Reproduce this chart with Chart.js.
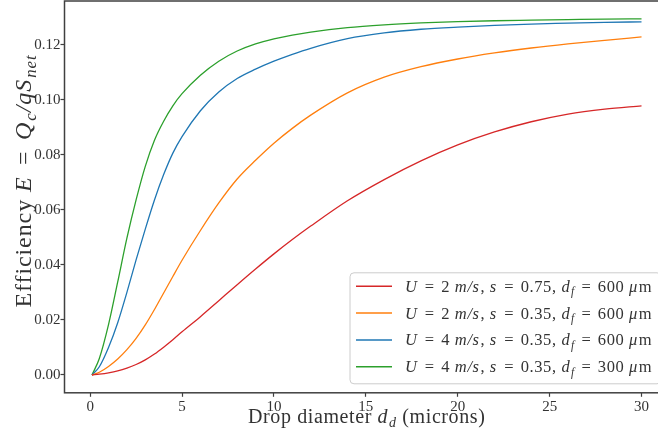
<!DOCTYPE html>
<html>
<head>
<meta charset="utf-8">
<script src="https://cdn.jsdelivr.net/npm/chart.js@4"></script>
<style>
  html, body { margin: 0; padding: 0; background: #fff; overflow: hidden; width: 658px; height: 438px; }
  canvas { display: block; }
</style>
</head>
<body>
<canvas id="c" width="669" height="438"></canvas>
<script>
// Drop diameter (microns) at which each efficiency curve is sampled
const diameters = [0.1, 0.5, 1, 1.5, 2, 2.5, 3, 3.5, 4, 4.5, 5, 6, 7, 8, 9, 10, 11, 12, 14, 16, 18, 20, 22, 24, 26, 28, 30];

// Collection efficiency E for each operating case
const effU2s075f600 = [0, 0.0003, 0.0008, 0.0015, 0.0025, 0.0038, 0.0055, 0.0076, 0.0101, 0.0128, 0.0157, 0.0212, 0.0270, 0.0328, 0.0385, 0.0440, 0.0492, 0.0541, 0.0633, 0.0710, 0.0778, 0.0836, 0.0883, 0.0920, 0.0948, 0.0966, 0.0978];
const effU2s035f600 = [0, 0.0010, 0.0031, 0.0058, 0.0092, 0.0133, 0.0182, 0.0238, 0.0298, 0.0358, 0.0417, 0.0525, 0.0625, 0.0712, 0.0780, 0.0842, 0.0896, 0.0944, 0.1025, 0.1082, 0.1120, 0.1148, 0.1170, 0.1188, 0.1203, 0.1216, 0.1228];
const effU4s035f600 = [0, 0.0030, 0.0100, 0.0190, 0.0300, 0.0418, 0.0530, 0.0636, 0.0728, 0.0806, 0.0866, 0.0960, 0.1028, 0.1077, 0.1111, 0.1140, 0.1165, 0.1187, 0.1222, 0.1243, 0.1256, 0.1264, 0.1270, 0.1275, 0.1278, 0.1281, 0.1283];
const effU4s035f300 = [0, 0.0060, 0.0183, 0.0338, 0.0497, 0.0636, 0.0758, 0.0853, 0.0922, 0.0978, 0.1022, 0.1089, 0.1140, 0.1177, 0.1203, 0.1221, 0.1235, 0.1246, 0.1262, 0.1272, 0.1279, 0.1284, 0.1287, 0.1289, 0.1291, 0.1293, 0.1294];

// Legend labels: $...$ is italic math, _{...} is a subscript
const seriesLabels = [
  '$U$ = 2 $m/s$, $s$ = 0.75, $d_{f}$ = 600 $μ$m',
  '$U$ = 2 $m/s$, $s$ = 0.35, $d_{f}$ = 600 $μ$m',
  '$U$ = 4 $m/s$, $s$ = 0.35, $d_{f}$ = 600 $μ$m',
  '$U$ = 4 $m/s$, $s$ = 0.35, $d_{f}$ = 300 $μ$m'
];
const seriesColors = ['#d62728', '#ff7f0e', '#1f77b4', '#2ca02c'];

const xTicks = [0, 5, 10, 15, 20, 25, 30];
const yTicks = [0, 0.02, 0.04, 0.06, 0.08, 0.10, 0.12];
const xTitle = 'Drop diameter $d_{d}$ (microns)';
const yTitle = 'Efficiency $E$ = $Q_{c}/qS_{net}$';

const SERIF = '"Liberation Serif", "DejaVu Serif", serif';
const INK = '#333333';

// ---- small rich-text helpers (italic, subscripts, math spacing) ----
function parseRich(s) {
  const out = [];
  let it = false, i = 0;
  while (i < s.length) {
    const ch = s[i];
    if (ch === '$') { it = !it; i++; continue; }
    if (ch === '_' && s[i + 1] === '{') {
      const j = s.indexOf('}', i);
      out.push({ t: s.slice(i + 2, j), i: it, sub: true });
      i = j + 1; continue;
    }
    const last = out[out.length - 1];
    if (last && !last.sub && last.i === it) last.t += ch;
    else out.push({ t: ch, i: it, sub: false });
    i++;
  }
  return out;
}
function plainText(s) { return s.replace(/\$|_\{|\}/g, ''); }
function fontFor(seg, size) {
  const sz = seg.sub ? size * 0.7 : size;
  return (seg.i ? 'italic ' : '') + sz.toFixed(2) + 'px ' + SERIF;
}
// Lay out the pieces: returns [{t, font, dx, dy}] and total width
function layoutRich(ctx, segs, size, opt) {
  const pieces = [];
  let x = 0;
  segs.forEach((s, k) => {
    const font = fontFor(s, size);
    ctx.font = font;
    ctx.letterSpacing = opt.spacing + 'px';
    const parts = s.t.split(/(=)/);
    for (const p of parts) {
      if (p === '') continue;
      if (p === '=') x += opt.relGap;
      pieces.push({ t: p, font, dx: x, dy: s.sub ? size * 0.22 : 0 });
      x += ctx.measureText(p).width;
      if (p === '=') x += opt.relGap;
    }
    // italic correction before upright or sub text
    const next = segs[k + 1];
    if (s.i && !s.sub && next && (next.sub || !next.i)) x += size * 0.05;
  });
  ctx.letterSpacing = '0px';
  return { pieces, width: x };
}
function drawRich(ctx, text, x, y, size, align, opt) {
  const { pieces, width } = layoutRich(ctx, parseRich(text), size, opt);
  const x0 = align === 'center' ? x - width / 2 : x;
  ctx.textAlign = 'left';
  ctx.textBaseline = 'alphabetic';
  ctx.letterSpacing = opt.spacing + 'px';
  for (const p of pieces) {
    ctx.font = p.font;
    ctx.fillText(p.t, x0 + p.dx, y + p.dy);
  }
  ctx.letterSpacing = '0px';
}

// Frame, axis titles and legend drawn on top of the curves
const decorPlugin = {
  id: 'decor',
  afterDatasetsDraw(chart) {
    const { ctx, chartArea: a } = chart;
    ctx.save();
    // axes frame
    ctx.strokeStyle = '#404040';
    ctx.lineWidth = 1.5;
    ctx.strokeRect(a.left, a.top, a.right - a.left, a.bottom - a.top);

    // axis titles
    ctx.fillStyle = INK;
    drawRich(ctx, xTitle, (a.left + a.right) / 2, 423, 20, 'center', { spacing: 0.6, relGap: 3 });
    ctx.save();
    ctx.translate(30.5, 181);
    ctx.rotate(-Math.PI / 2);
    drawRich(ctx, yTitle, 0, 0, 24, 'center', { spacing: 0.9, relGap: 3.5 });
    ctx.restore();

    // legend box (lower right)
    const bw = 311, bh = 111;
    const bx = a.right - 8 - bw, by = a.bottom - 9 - bh;
    ctx.beginPath();
    ctx.roundRect(bx, by, bw, bh, 4);
    ctx.fillStyle = 'rgba(255,255,255,0.8)';
    ctx.fill();
    ctx.strokeStyle = '#cccccc';
    ctx.lineWidth = 1;
    ctx.stroke();
    chart.data.datasets.forEach((ds, k) => {
      const ry = by + 13.5 + k * 26.8;
      ctx.beginPath();
      ctx.moveTo(bx + 6, ry);
      ctx.lineTo(bx + 42, ry);
      ctx.strokeStyle = ds.borderColor;
      ctx.lineWidth = 1.5;
      ctx.stroke();
      ctx.fillStyle = INK;
      drawRich(ctx, seriesLabels[k], bx + 55, ry + 5.5, 16.5, 'left', { spacing: 0.6, relGap: 1.8 });
    });
    ctx.restore();
  }
};

const seriesValues = [effU2s075f600, effU2s035f600, effU4s035f600, effU4s035f300];

new Chart(document.getElementById('c'), {
  type: 'line',
  data: {
    datasets: seriesValues.map((vals, k) => ({
      label: plainText(seriesLabels[k]),
      data: diameters.map((d, j) => ({ x: d, y: vals[j] })),
      borderColor: seriesColors[k],
      backgroundColor: seriesColors[k],
      borderWidth: 1.3,
      pointRadius: 0,
      cubicInterpolationMode: 'monotone',
      fill: false
    }))
  },
  options: {
    responsive: false,
    animation: false,
    devicePixelRatio: 1,
    layout: { padding: { top: 1, right: 0, bottom: 0, left: 0 } },
    plugins: { legend: { display: false }, tooltip: { enabled: false } },
    scales: {
      x: {
        type: 'linear',
        min: -1.395,
        max: 31.495,
        afterFit(s) { s.height = 45.2; s.paddingLeft = 0; s.paddingRight = 0; },
        afterBuildTicks(s) { s.ticks = xTicks.map(v => ({ value: v })); },
        border: { display: false },
        grid: { drawOnChartArea: false, drawTicks: true, tickLength: 4, color: '#404040', tickWidth: 1.2 },
        ticks: { color: INK, font: { family: SERIF, size: 15 }, padding: 1, maxRotation: 0,
                 callback: v => String(v) }
      },
      y: {
        type: 'linear',
        min: -0.00647,
        max: 0.13587,
        afterFit(s) { s.width = 64.5; s.paddingTop = 0; s.paddingBottom = 0; },
        afterBuildTicks(s) { s.ticks = yTicks.map(v => ({ value: v })); },
        border: { display: false },
        grid: { drawOnChartArea: false, drawTicks: true, tickLength: 4, color: '#404040', tickWidth: 1.2 },
        ticks: { color: INK, font: { family: SERIF, size: 15 }, padding: 0,
                 callback: v => Number(v).toFixed(2) }
      }
    }
  },
  plugins: [decorPlugin]
});
</script>
</body>
</html>
